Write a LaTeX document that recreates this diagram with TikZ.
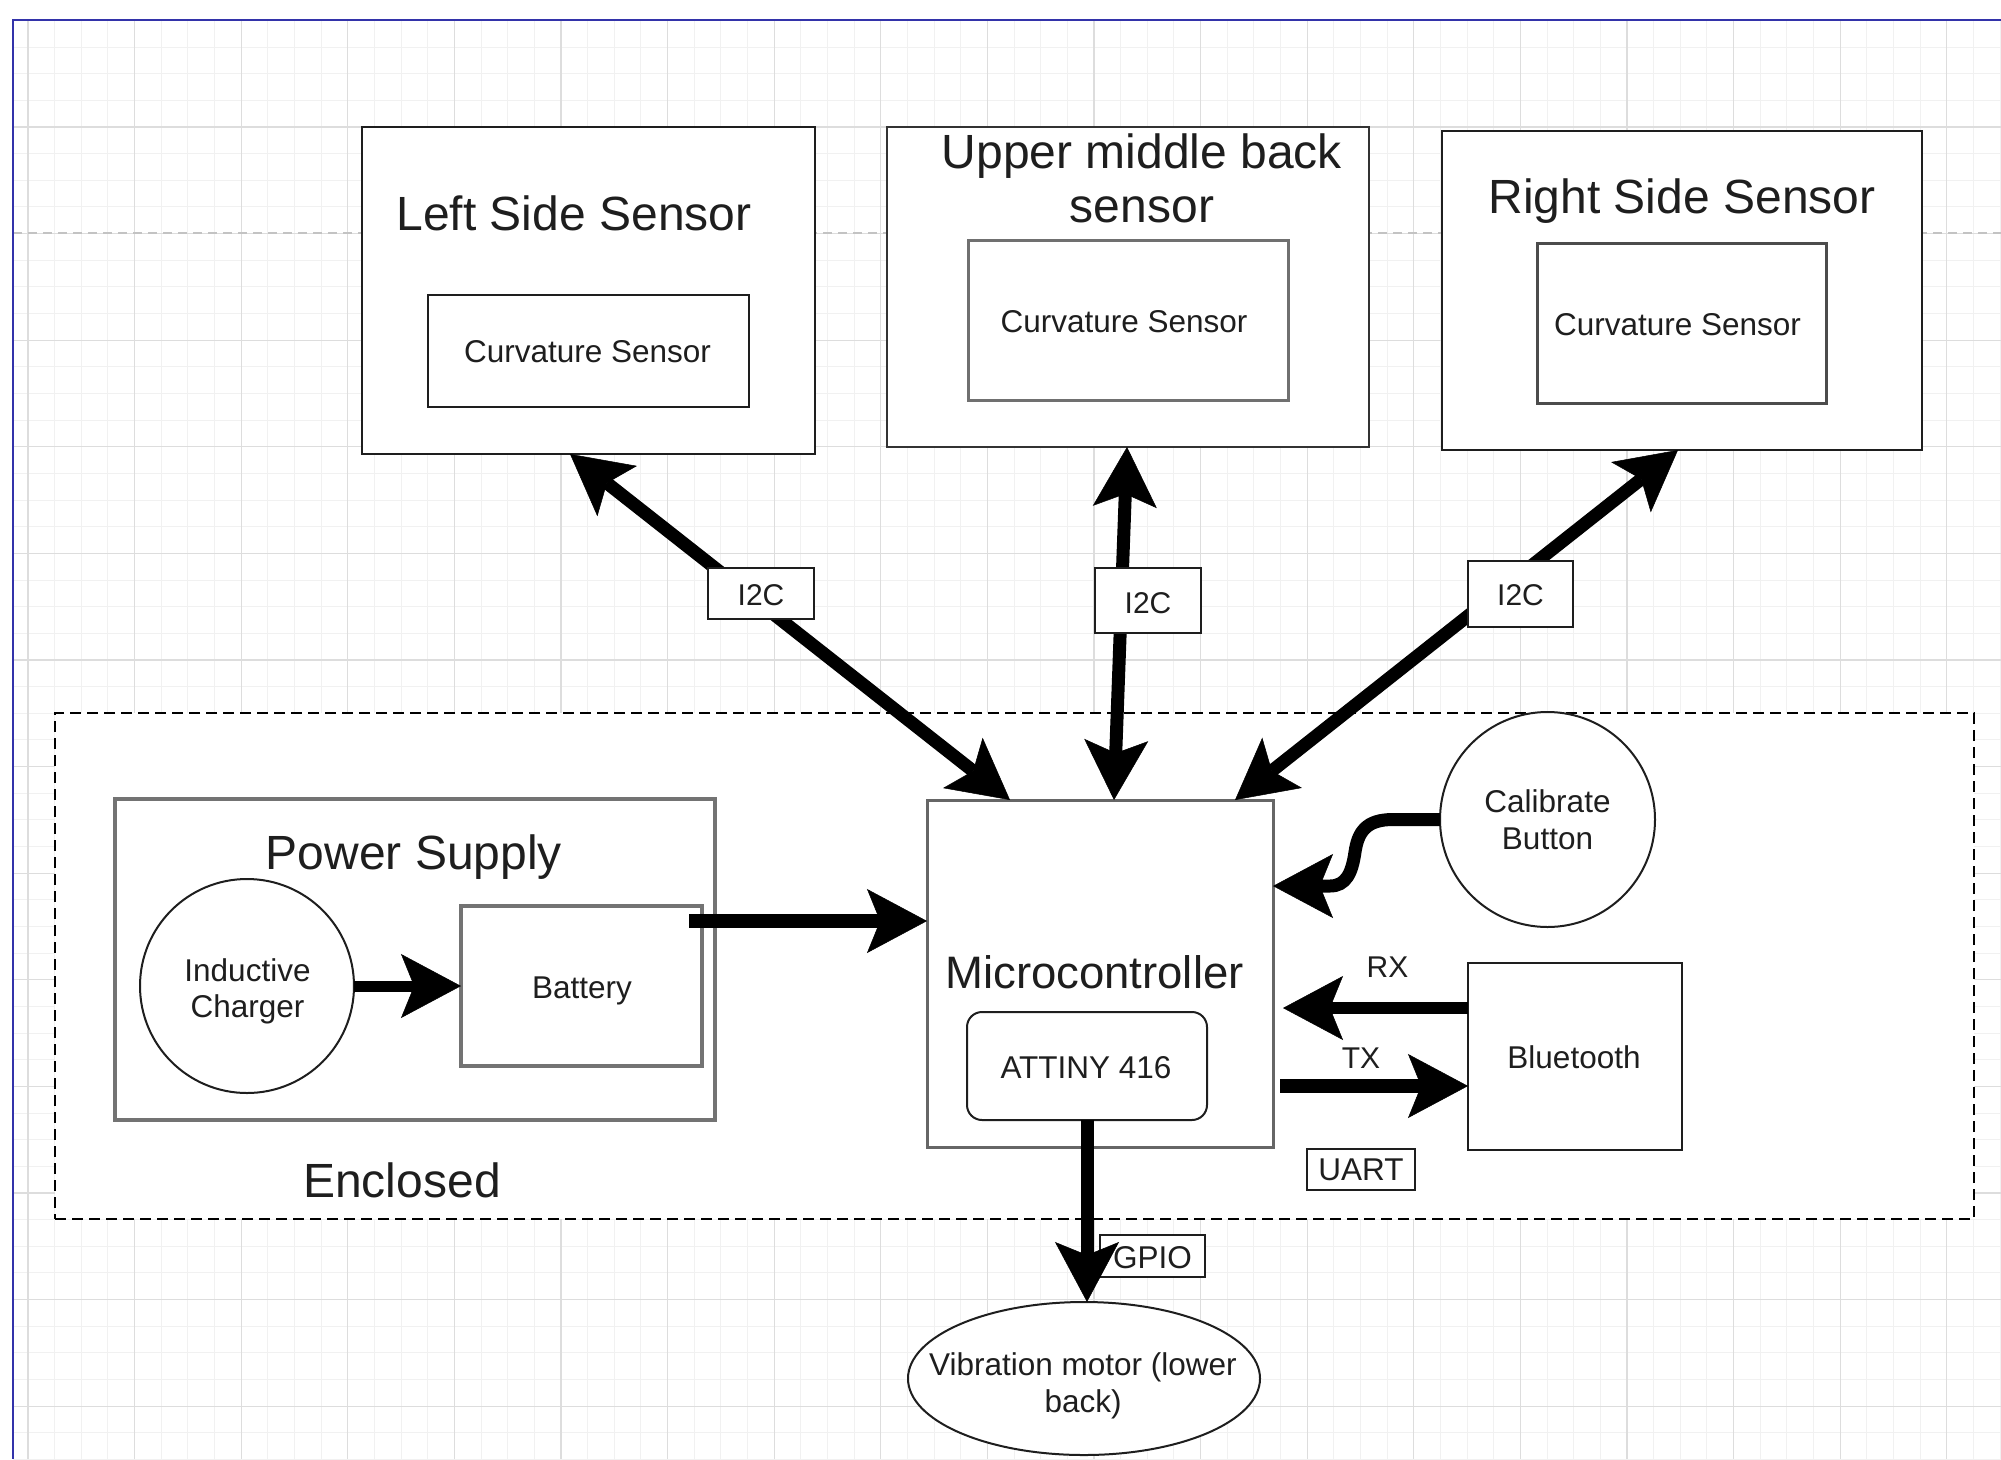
\documentclass[tikz,border=0pt]{standalone}
\usepackage{fontspec}
\setmainfont{Liberation Sans}
\usetikzlibrary{arrows.meta,shapes.geometric}

\definecolor{frameblue}{RGB}{51,51,170}
\definecolor{ink}{RGB}{30,30,30}
\definecolor{gridmajor}{RGB}{221,221,221}
\definecolor{gridminor}{RGB}{241,241,241}
\definecolor{pagebreak}{RGB}{195,195,195}
\definecolor{boxgrey}{RGB}{112,112,112}

\begin{document}
\begin{tikzpicture}[x=1pt,y=-1pt,
  every node/.style={inner sep=0pt, outer sep=0pt},
  fathead/.tip={Stealth[length=60pt,width=64pt,inset=13pt,line width=0.5pt]},
  solidbox/.style={rectangle, draw=ink, line width=2.2pt, fill=white},
  greybox/.style={rectangle, draw=boxgrey, line width=3pt, fill=white},
  chipbox/.style={rectangle, draw=ink, line width=2pt, fill=white, rounded corners=15pt},
  ring/.style={circle, draw=ink, line width=2pt, fill=white},
  tagbox/.style={rectangle, draw=ink, line width=2pt, fill=white},
  ttl/.style={anchor=base, text=ink, font=\fontsize{48}{54}\selectfont},
  ttlm/.style={anchor=base, text=ink, font=\fontsize{45.5}{50}\selectfont},
  lbl/.style={anchor=base, text=ink, font=\fontsize{31.5}{37}\selectfont},
  tag/.style={anchor=base, text=ink, font=\fontsize{30}{36}\selectfont},
  flow/.style={line width=13pt, draw=black, -{fathead}},
  flowboth/.style={line width=13pt, draw=black, {fathead}-{fathead}},
]
\useasboundingbox (0,0) rectangle (2001,1459);
\fill[white] (0,0) rectangle (2001,1459);

% drawing grid
\begin{scope}
  \clip (13,20) rectangle (2001,1459);
  \foreach \k in {-1,...,75}
    \draw[gridminor, line width=1pt] ({28+26.65*\k},20) -- ({28+26.65*\k},1459);
  \foreach \k in {-5,...,51}
    \draw[gridminor, line width=1pt] (13,{127+26.65*\k}) -- (2001,{127+26.65*\k});
  \foreach \k in {0,...,18}
    \draw[gridmajor, line width=1.3pt] ({28+106.6*\k},20) -- ({28+106.6*\k},1459);
  \foreach \k in {-1,...,13}
    \draw[gridmajor, line width=1.3pt] (13,{127+106.6*\k}) -- (2001,{127+106.6*\k});
  \draw[pagebreak, line width=1.3pt, dash pattern=on 9pt off 6pt] (13,233) -- (2001,233);
\end{scope}
\draw[frameblue, line width=2.4pt] (2001,20) -- (13,20) -- (13,1459);

% enclosure
\node[rectangle, draw=black, fill=white, line width=2.5pt, dash pattern=on 11pt off 6pt,
      minimum width=1919pt, minimum height=506pt] (encl) at (1014.5,966) {};

% sensor boxes
\node[solidbox, minimum width=453pt, minimum height=327pt] (left) at (588.5,290.5) {};
\node[solidbox, minimum width=321pt, minimum height=112pt] (leftcs) at (588.5,351) {};
\node[solidbox, draw=black!80, line width=2.6pt, minimum width=482pt, minimum height=320pt] (mid) at (1128,287) {};
\node[greybox, minimum width=320pt, minimum height=160pt] (midcs) at (1128,320) {};
\node[solidbox, line width=2.6pt, minimum width=480pt, minimum height=319pt] (right) at (1682,290.5) {};
\node[greybox, draw=black!70, minimum width=289pt, minimum height=160pt] (rightcs) at (1681.5,323) {};

% power supply
\node[greybox, draw=black!55, line width=3.4pt, minimum width=600pt, minimum height=321pt] (psu) at (415,959.5) {};
\node[ring, minimum size=214pt] (charger) at (247,986) {};
\node[greybox, draw=black!55, line width=3.4pt, minimum width=241pt, minimum height=160pt] (battery) at (581.5,986) {};

% controller and peripherals
\node[greybox, draw=black!60, minimum width=346pt, minimum height=347pt] (mcu) at (1100,973.5) {};
\node[chipbox, minimum width=240pt, minimum height=108pt] (attiny) at (1087,1066) {};
\node[ring, minimum size=215pt] (calib) at (1547.5,819.5) {};
\node[solidbox, minimum width=214pt, minimum height=187pt] (bt) at (1575,1056.5) {};
\node[ellipse, draw=ink, line width=2pt, fill=white, minimum width=352pt, minimum height=153pt] (motor) at (1084,1378.5) {};
\node[tagbox, minimum width=108pt, minimum height=41pt] (uart) at (1361,1169.5) {};
\node[tagbox, minimum width=105pt, minimum height=42pt] (gpio) at (1152.5,1256) {};

% connectors
\draw[flowboth] ([xshift=-18.5pt]left.south) -- ([xshift=-90pt]mcu.north);
\draw[flowboth] ([xshift=-1pt]mid.south) -- ([xshift=14pt]mcu.north);
\draw[flowboth] ([xshift=-4pt]right.south) -- ([xshift=135pt]mcu.north);
\draw[flow, line width=11pt] (charger.east) -- (battery.west);
\draw[flow, line width=14pt] ([xshift=-13pt,yshift=65pt]battery.east) -- ([yshift=52.5pt]mcu.west);
\draw[flow] (calib.west) -- (1393,819.5)
  .. controls (1366,819.5) and (1358,832) .. (1355,852)
  .. controls (1352,873) and (1346,886) .. (1330,886)
  -- ([yshift=87.5pt]mcu.east);
\draw[flow, line width=12pt] ([yshift=48.5pt]bt.west) -- ([xshift=10pt,yshift=-34.5pt]mcu.east);
\draw[flow, line width=14pt] ([xshift=7pt,yshift=-112.5pt]mcu.east) -- ([yshift=-29.5pt]bt.west);
\draw[flow] (attiny.south) -- ([xshift=3pt]motor.north);

% bus labels
\node[tagbox, minimum width=106pt, minimum height=51pt] (i2cl) at (761,593.5) {};
\node[tagbox, minimum width=106pt, minimum height=65pt] (i2cm) at (1148,600.5) {};
\node[tagbox, minimum width=105pt, minimum height=66pt] (i2cr) at (1520.5,594) {};

% texts
\node[ttl] (tLeft) at (574,230) {Left Side Sensor};
\node[ttl] (tMidA) at (1142,168) {Upper middle back};
\node[ttl] (tMidB) at (1142,222) {sensor};
\node[ttl] (tRight) at (1682,213) {Right Side Sensor};
\node[lbl] (tCsL) at (587.5,362) {Curvature Sensor};
\node[lbl] (tCsM) at (1124,332) {Curvature Sensor};
\node[lbl] (tCsR) at (1677.5,335) {Curvature Sensor};
\node[ttl] (tPsu) at (414,869) {Power Supply};
\node[lbl] (tIndA) at (247.5,981) {Inductive};
\node[lbl] (tIndB) at (247.5,1017) {Charger};
\node[lbl] (tBat) at (582,998) {Battery};
\node[ttl] (tEnc) at (402,1197) {Enclosed};
\node[ttlm] (tMcu) at (1094.5,988) {Microcontroller};
\node[lbl] (tAtt) at (1086,1078) {ATTINY 416};
\node[lbl] (tCalA) at (1547.5,812) {Calibrate};
\node[lbl] (tCalB) at (1547.5,849) {Button};
\node[tag] (tRx) at (1387.5,977) {RX};
\node[tag] (tTx) at (1361,1068) {TX};
\node[lbl] (tBt) at (1574,1068) {Bluetooth};
\node[lbl] (tUart) at (1361,1180) {UART};
\node[lbl] (tGpio) at (1152.5,1268) {GPIO};
\node[lbl] (tVibA) at (1083,1375) {Vibration motor (lower};
\node[lbl] (tVibB) at (1083,1412) {back)};
\node[tag] (tI2cL) at (761,605) {I2C};
\node[tag] (tI2cM) at (1148,613) {I2C};
\node[tag] (tI2cR) at (1520.5,605) {I2C};
\end{tikzpicture}
\end{document}
